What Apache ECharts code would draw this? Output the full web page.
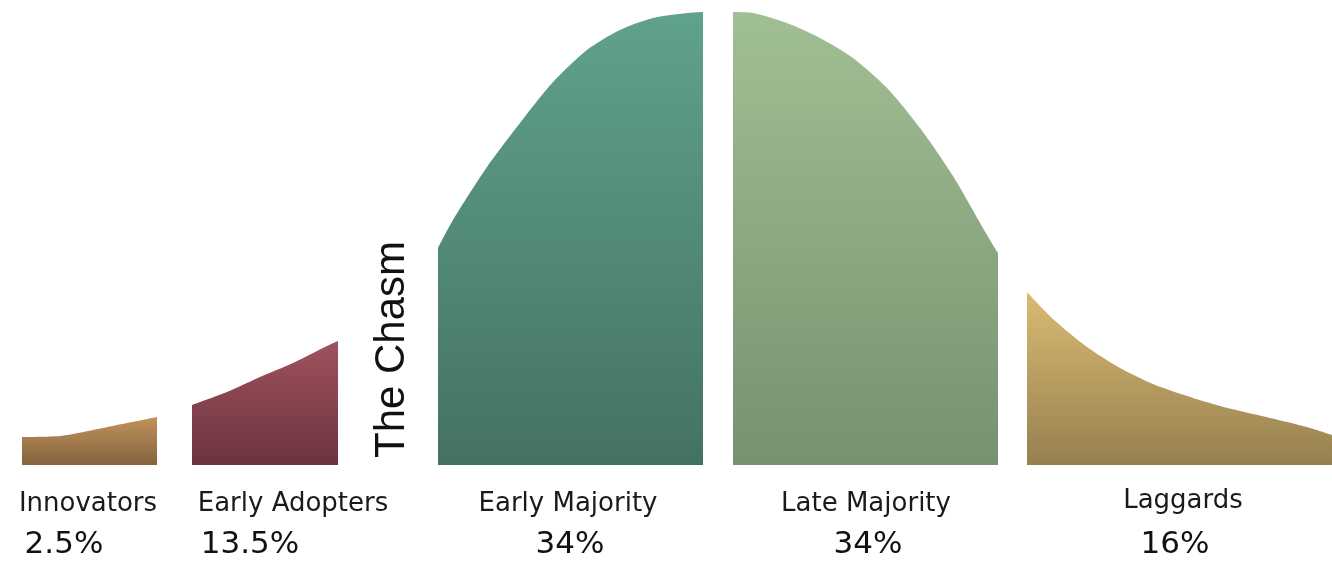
<!DOCTYPE html>
<html>
<head>
<meta charset="utf-8">
<script src="https://cdn.jsdelivr.net/npm/echarts@6/dist/echarts.min.js"></script>
<style>
html,body{margin:0;padding:0;background:#fff;}
#c{width:1332px;height:563px;}
</style>
</head>
<body>
<div id="c"></div>
<script>
// Segment names and shares
const categories = ['Innovators', 'Early Adopters', 'Early Majority', 'Late Majority', 'Laggards'];
const shares = ['2.5%', '13.5%', '34%', '34%', '16%'];
const chasmLabel = 'The Chasm';

// Curve samples (x position, curve height)
const innovatorsX = [22, 60, 93, 127, 157];
const innovatorsY = [28, 29, 35, 42, 48];
const earlyAdoptersX = [192, 227, 260, 293, 327, 338];
const earlyAdoptersY = [60, 73, 88, 102, 119, 124];
const earlyMajorityX = [438, 453, 487, 520, 553, 587, 620, 653, 687, 703];
const earlyMajorityY = [217, 245, 298, 342, 383, 415, 435, 447, 452, 453];
const lateMajorityX = [733, 753, 787, 820, 853, 887, 920, 953, 987, 998];
const lateMajorityY = [453, 452, 442, 427, 407, 377, 337, 289, 230, 212];
const laggardsX = [1027, 1053, 1087, 1120, 1153, 1187, 1220, 1253, 1287, 1310, 1332];
const laggardsY = [173, 146, 118, 97, 81, 69, 59, 51, 43, 37, 30];

const segX = [innovatorsX, earlyAdoptersX, earlyMajorityX, lateMajorityX, laggardsX];
const segY = [innovatorsY, earlyAdoptersY, earlyMajorityY, lateMajorityY, laggardsY];

const colors = [
  ['#c1925a', '#856440'],
  ['#a0525d', '#6b333f'],
  ['#60a28d', '#447262'],
  ['#a1bf94', '#789170'],
  ['#dabb72', '#968050']
];

const labelFont = '"DejaVu Sans", sans-serif';
const labelPos = [
  {name: [88, 504], pct: [64, 545]},
  {name: [293, 504], pct: [250, 545]},
  {name: [568, 504], pct: [570, 545]},
  {name: [866, 504], pct: [868, 545]},
  {name: [1183, 501], pct: [1175, 545]}
];

const chart = echarts.init(document.getElementById('c'), null, {renderer: 'canvas'});

const series = categories.map((name, i) => ({
  name: name,
  type: 'line',
  smooth: 0.25,
  symbol: 'none',
  silent: true,
  lineStyle: {width: 0},
  areaStyle: {
    opacity: 1,
    color: new echarts.graphic.LinearGradient(0, 0, 0, 1, [
      {offset: 0, color: colors[i][0]},
      {offset: 1, color: colors[i][1]}
    ])
  },
  data: segX[i].map((x, k) => [x, segY[i][k]])
}));

const graphics = [];
categories.forEach((name, i) => {
  graphics.push({
    type: 'text', x: labelPos[i].name[0], y: labelPos[i].name[1],
    style: {text: name, fill: '#1a1a1a', font: '26px ' + labelFont,
      align: 'center', verticalAlign: 'middle', textAlign: 'center', textVerticalAlign: 'middle'}
  });
  graphics.push({
    type: 'text', x: labelPos[i].pct[0], y: labelPos[i].pct[1],
    style: {text: shares[i], fill: '#111', font: '31px ' + labelFont,
      align: 'center', verticalAlign: 'middle', textAlign: 'center', textVerticalAlign: 'middle'}
  });
});
graphics.push({
  type: 'text', x: 392, y: 458, rotation: Math.PI / 2,
  style: {text: chasmLabel, fill: '#111', font: '42px "Liberation Sans", Arial, sans-serif',
    align: 'left', verticalAlign: 'middle', textAlign: 'left', textVerticalAlign: 'middle'}
});

chart.setOption({
  animation: false,
  backgroundColor: '#ffffff',
  grid: {left: 0, right: 0, top: 0, bottom: 98},
  xAxis: {type: 'value', min: 0, max: 1332, show: false},
  yAxis: {type: 'value', min: 0, max: 465, show: false},
  series: series,
  graphic: graphics
});
</script>
</body>
</html>
